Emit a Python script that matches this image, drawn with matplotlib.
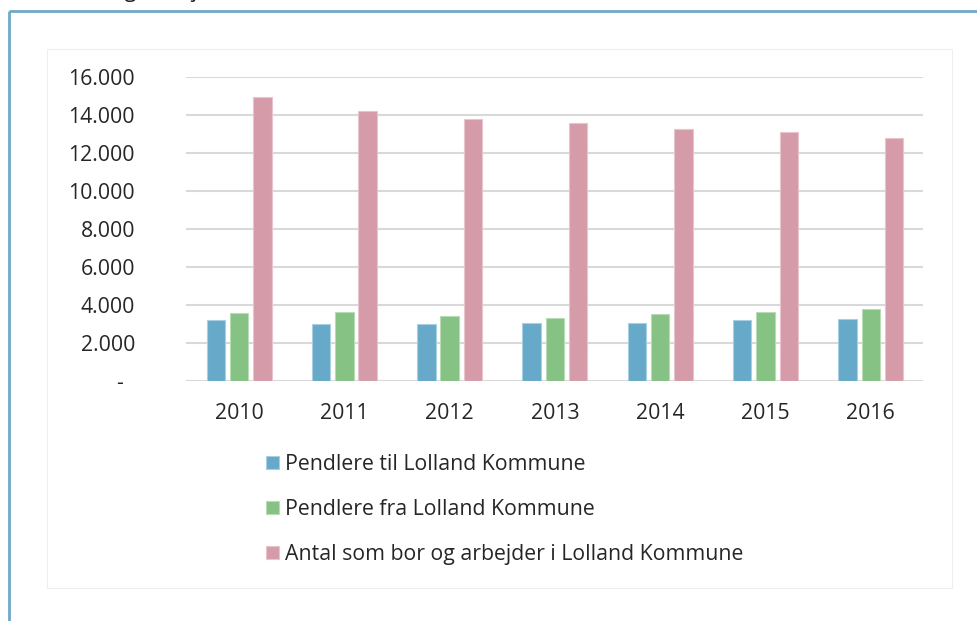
import matplotlib
matplotlib.use("Agg")
import matplotlib.pyplot as plt
from matplotlib.patches import Rectangle
from matplotlib.lines import Line2D
import numpy as np

years = ["2010", "2011", "2012", "2013", "2014", "2015", "2016"]
pendlere_til = [3220, 3010, 3010, 3030, 3040, 3220, 3250]
pendlere_fra = [3570, 3640, 3400, 3320, 3530, 3610, 3800]
bor_og_arbejder = [14980, 14240, 13790, 13610, 13260, 13100, 12800]
series_labels = ["Pendlere til Lolland Kommune",
                 "Pendlere fra Lolland Kommune",
                 "Antal som bor og arbejder i Lolland Kommune"]
yticks = [0, 2000, 4000, 6000, 8000, 10000, 12000, 14000, 16000]

colors = ["#67a9c9", "#85c283", "#d59ba9"]
edge_colors = ["#a9cfe2", "#b8ddb6", "#e8c4cd"]

plt.rcParams['font.family'] = ['Open Sans', 'DejaVu Sans']
FS = 15.3

W, H = 978, 621
fig = plt.figure(figsize=(W / 100, H / 100), dpi=100)
fig.patch.set_facecolor("white")

def fx(px):
    return px / W

def fy(py):
    return 1 - py / H

# outer blue frame (left and top)
fig.add_artist(Line2D([fx(8.7), fx(8.7)], [fy(10.5), 0], transform=fig.transFigure,
                      color="#6fa9c8", lw=2.0, solid_capstyle="butt", zorder=0))
fig.add_artist(Line2D([fx(8.7), 1], [fy(10.5), fy(10.5)], transform=fig.transFigure,
                      color="#6fa9c8", lw=2.0, solid_capstyle="butt", zorder=0))

# cut-off heading text at top
fig.text(fx(45), fy(-3), "Udvikling med job", fontsize=FS, color="#222222",
         ha="left", va="baseline", zorder=0)

# inner chart panel
fig.add_artist(Rectangle((fx(47.5), fy(588)), fx(952) - fx(47.5), fy(48.5) - fy(588),
                         transform=fig.transFigure, facecolor="white",
                         edgecolor="#eeeeee", lw=0.8, zorder=-1))

ax_left, ax_right, ax_top, ax_bottom = 186.5, 923.3, 77.3, 380.7
ax = fig.add_axes([fx(ax_left), fy(ax_bottom), fx(ax_right) - fx(ax_left),
                   fy(ax_top) - fy(ax_bottom)])
ax.set_facecolor("none")
ax.set_zorder(2)

x = np.arange(len(years))
w = 0.174
off = 0.221
data = [pendlere_til, pendlere_fra, bor_og_arbejder]
handles = []
for i, vals in enumerate(data):
    b = ax.bar(x + (i - 1) * off, vals, width=w, color=colors[i],
               edgecolor=edge_colors[i], linewidth=0.8, zorder=3,
               label=series_labels[i])
    handles.append(b)

ax.set_xlim(-0.5, len(years) - 0.5)
ax.set_ylim(0, 16000)
ax.set_yticks(yticks)
ax.set_yticklabels(["-  " if v == 0 else f"{v:,}".replace(",", ".") for v in yticks])
ax.set_xticks(x)
ax.set_xticklabels(years)
for s in ax.spines.values():
    s.set_visible(False)
ax.yaxis.grid(True, color="#d9d9d9", lw=1.5, zorder=0)
ax.tick_params(axis="y", length=0, pad=37, labelsize=FS, labelcolor="#262626")
ax.tick_params(axis="x", length=0, pad=16, labelsize=FS, labelcolor="#262626")

leg = ax.legend(handles=handles, labels=series_labels, loc="upper left",
                bbox_to_anchor=(fx(266), fy(454)), bbox_transform=fig.transFigure,
                frameon=False, fontsize=FS, handlelength=0.6, handleheight=0.6,
                handletextpad=0.28, labelspacing=1.13, borderpad=0, borderaxespad=0)
for t in leg.get_texts():
    t.set_color("#262626")

fig.savefig("out.png", dpi=100, facecolor="white")
